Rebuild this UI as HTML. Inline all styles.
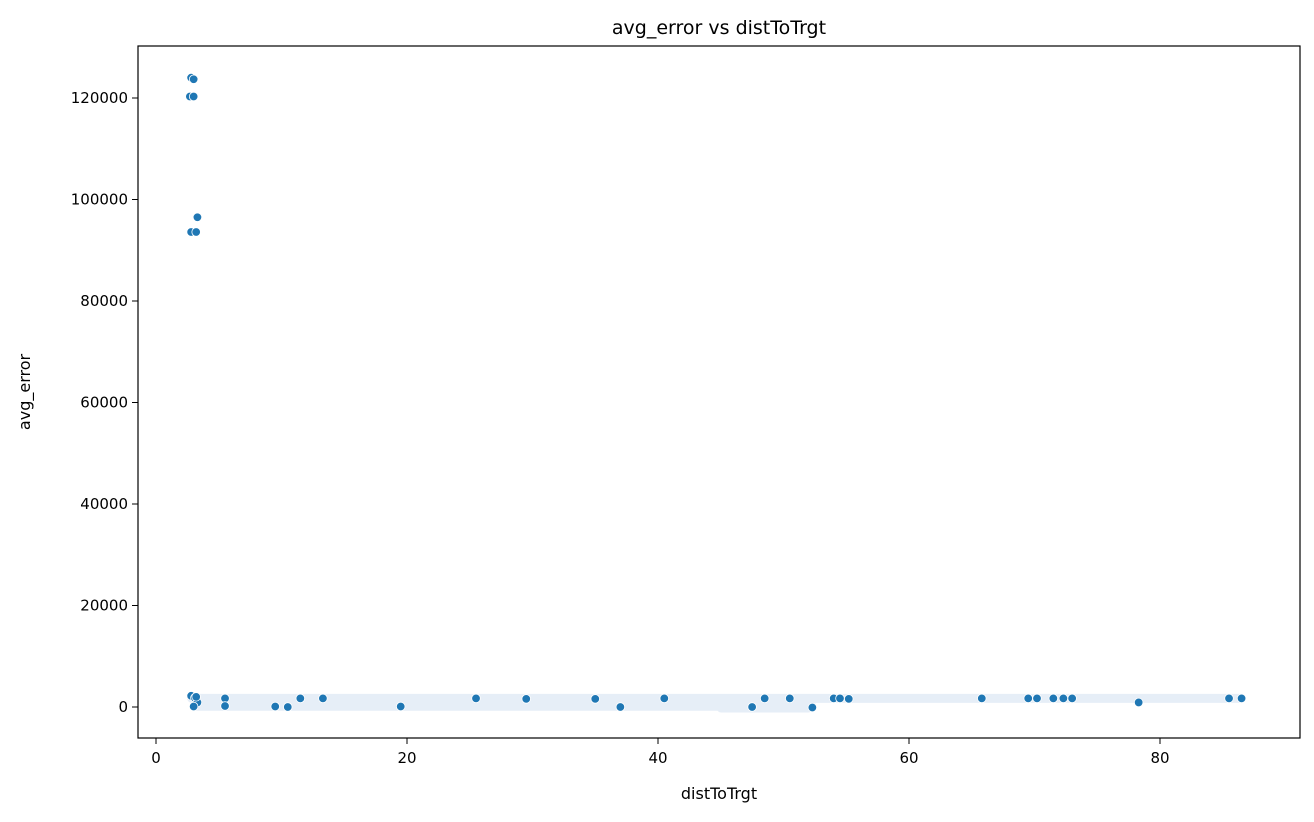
<!DOCTYPE html>
<html><head><meta charset="utf-8"><style>
body{margin:0;background:#fff;font-family:"Liberation Sans","DejaVu Sans",sans-serif}
svg text{font-family:"DejaVu Sans","Liberation Sans",sans-serif;fill:#000}
</style></head><body>
<svg id="c" width="1314" height="817" xmlns="http://www.w3.org/2000/svg">
<rect width="1314" height="817" fill="#fff"/>
<text x="719" y="34" font-size="19" text-anchor="middle">avg_error vs distToTrgt</text>
<text x="719" y="799" font-size="16" text-anchor="middle">distToTrgt</text>
<text x="30" y="392" font-size="16" text-anchor="middle" transform="rotate(-90 30 392)">avg_error</text>
<g id="bands"></g><g id="pts"></g><g id="ax"></g>
<rect x="138" y="46" width="1162" height="692" fill="none" stroke="#000" stroke-width="1.2"/>
</svg>
<script>
const xTicks=[0,20,40,60,80];
const yTicks=[0,20000,40000,60000,80000,100000,120000];
const bandStart=[2.8,3.0,28,45];
const bandEnd=[86.5,52.3,52,52];
const bandY=[1700,150,700,-200];
const ptX=[2.8,3.0,2.7,3.0,3.3,2.8,3.2,2.8,3.1,3.3,3.0,3.2,5.5,5.5,10.5,19.5,11.5,9.5,35,37,29.5,40.5,52.3,47.5,54,54.5,55.2,65.8,69.5,70.2,71.5,72.3,73,78.3,85.5,86.5,25.5,48.5,50.5,13.3];
const ptY=[124000,123700,120300,120300,96500,93600,93600,2200,1800,900,100,2000,1700,200,0,100,1700,100,1600,0,1600,1700,-100,0,1700,1700,1600,1700,1700,1700,1700,1700,1700,900,1700,1700,1700,1700,1700,1700];
const X=v=>156+v*12.55, Y=v=>707-v*0.005075;
const ns="http://www.w3.org/2000/svg";
function mk(t,a,p){const e=document.createElementNS(ns,t);for(const k in a)e.setAttribute(k,a[k]);p.appendChild(e);return e;}
const ax=document.getElementById('ax');
xTicks.forEach(t=>{mk('line',{x1:X(t),x2:X(t),y1:738,y2:744,stroke:'#000'},ax);
const tx=mk('text',{x:X(t),y:763,'font-size':15,'text-anchor':'middle'},ax);tx.textContent=t;

});
yTicks.forEach(t=>{mk('line',{x1:132,x2:138,y1:Y(t),y2:Y(t),stroke:'#000'},ax);
const tx=mk('text',{x:128,y:Y(t)+5,'font-size':15,'text-anchor':'end'},ax);tx.textContent=t;

});
const bg=document.getElementById('bands');
bandStart.forEach((s,i)=>{const r=mk('rect',{x:X(s)-4,y:Y(bandY[i])-4.5,width:X(bandEnd[i])-X(s)+8,height:9,rx:4.5,fill:'#e6eef7'},bg);

});
const pg=document.getElementById('pts');
ptX.forEach((x,i)=>{const c=mk('circle',{cx:X(x),cy:Y(ptY[i]),r:4.3,fill:'#1f77b4',stroke:'#fff','stroke-width':0.8},pg);

});
</script>
</body></html>
